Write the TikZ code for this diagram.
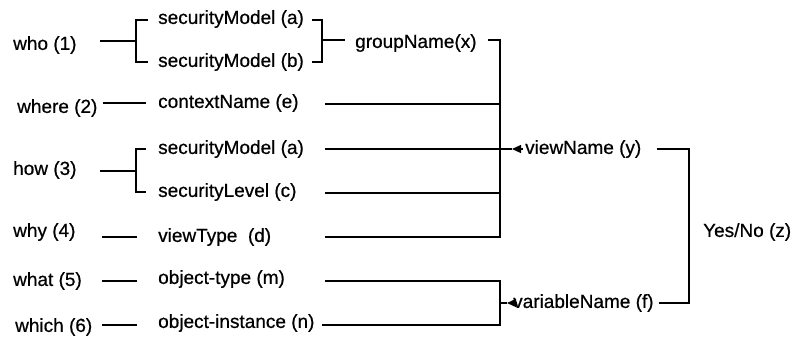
\documentclass[tikz,border=0pt]{standalone}
\usepackage{fontspec}
\setmainfont{Liberation Sans}[BoldFont=Liberation Sans,BoldFeatures={FakeBold=0.6}]
\usetikzlibrary{arrows.meta}
\begin{document}
\begin{tikzpicture}[x=1pt,y=-1pt,
  lbl/.style={anchor=west,inner sep=0pt,font=\fontsize{19}{22}\selectfont\bfseries},
  ln/.style={line width=1.3pt,line cap=butt,line join=miter},
  tiparrow/.style={line width=1.3pt,-{Triangle[length=9pt,width=8pt]}}]
\useasboundingbox (0,0) rectangle (795,346);
% left column
\node[lbl] (who)   at (13,45)  {who (1)};
\node[lbl] (where) at (17,108) {where (2)};
\node[lbl] (how)   at (13,170) {how (3)};
\node[lbl] (why)   at (13,232) {why (4)};
\node[lbl] (what)  at (13,281) {what (5)};
\node[lbl] (which) at (15,327) {which (6)};
% middle column
\node[lbl] (smA)  at (158,19)  {securityModel (a)};
\node[lbl] (smB)  at (158,62)  {securityModel (b)};
\node[lbl] (ctx)  at (158,103) {contextName (e)};
\node[lbl] (smA2) at (158,149) {securityModel (a)};
\node[lbl] (slv)  at (158,192) {securityLevel (c)};
\node[lbl] (vty)  at (158,237) {viewType\ \ (d)};
\node[lbl] (oty)  at (158,279) {object-type (m)};
\node[lbl] (oin)  at (158,323) {object-instance (n)};
% right side
\node[lbl] (grp)  at (355,43)  {groupName(x)};
\node[lbl] (vwn)  at (525,149) {viewName (y)};
\node[lbl] (var)  at (513,303) {variableName (f)};
\node[lbl] (yn)   at (703,232) {Yes/No (z)};

% ---- who bracket
\coordinate (whoL) at (100,41);  \coordinate (whoR) at (136,41);
\coordinate (b1t)  at (136,20);  \coordinate (b1b)  at (136,62);
\coordinate (b1ta) at (148,20);  \coordinate (b1ba) at (148,62);
\draw[ln] (whoL) -- (whoR);
\draw[ln] (b1ta) -- (b1t) -- (b1b) -- (b1ba);
% right bracket of securityModels
\coordinate (r1ta) at (312,20); \coordinate (r1t) at (322,20);
\coordinate (r1ba) at (312,62); \coordinate (r1b) at (322,62);
\coordinate (r1m)  at (322,40); \coordinate (r1s) at (345,40);
\draw[ln] (r1ta) -- (r1t) -- (r1b) -- (r1ba);
\draw[ln] (r1m) -- (r1s);
% groupName to main vertical
\coordinate (gT)  at (488,40); \coordinate (vT) at (500,40);
\coordinate (vB)  at (500,237); \coordinate (vtyR) at (325,237);
\draw[ln] (gT) -- (vT) -- (vB) -- (vtyR);
% where
\coordinate (whereL) at (103,103); \coordinate (whereR) at (146,103);
\draw[ln] (whereL) -- (whereR);
\coordinate (ctxR) at (325,104); \coordinate (ctxJ) at (500,104);
\draw[ln] (ctxR) -- (ctxJ);
% how bracket
\coordinate (howL) at (100,171); \coordinate (howR) at (136,171);
\coordinate (b3t) at (136,149); \coordinate (b3b) at (136,192);
\coordinate (b3ta) at (146,149); \coordinate (b3ba) at (146,192);
\draw[ln] (howL) -- (howR);
\draw[ln] (b3ta) -- (b3t) -- (b3b) -- (b3ba);
% securityModel (a) to viewName
\coordinate (smA2R) at (325,149); \coordinate (vwnTip) at (512,149);
\coordinate (vwnBase) at (523,149);
\draw[ln] (smA2R) -- (vwnTip);
\draw[tiparrow] (vwnBase) -- (vwnTip);
% securityLevel
\coordinate (slvR) at (325,193); \coordinate (slvJ) at (500,193);
\draw[ln] (slvR) -- (slvJ);
% why
\coordinate (whyL) at (102,237); \coordinate (whyR) at (137,237);
\draw[ln] (whyL) -- (whyR);
% what / which
\coordinate (whatL) at (102,281); \coordinate (whatR) at (137,281);
\coordinate (whichL) at (102,325); \coordinate (whichR) at (137,325);
\draw[ln] (whatL) -- (whatR);
\draw[ln] (whichL) -- (whichR);
% object bracket
\coordinate (otyR) at (325,281); \coordinate (oT) at (500,281);
\coordinate (oB) at (500,325); \coordinate (oinR) at (322,325);
\draw[ln] (otyR) -- (oT) -- (oB) -- (oinR);
\coordinate (oM) at (500,303); \coordinate (varTip) at (507,303);
\coordinate (varBase) at (517,303);
\draw[ln] (oM) -- (varTip);
\draw[tiparrow] (varBase) -- (varTip);
% Yes/No bracket
\coordinate (vwnR) at (657,149); \coordinate (yT) at (689,149);
\coordinate (yB) at (689,303); \coordinate (varR) at (659,303);
\draw[ln] (vwnR) -- (yT) -- (yB) -- (varR);
\end{tikzpicture}
\end{document}
